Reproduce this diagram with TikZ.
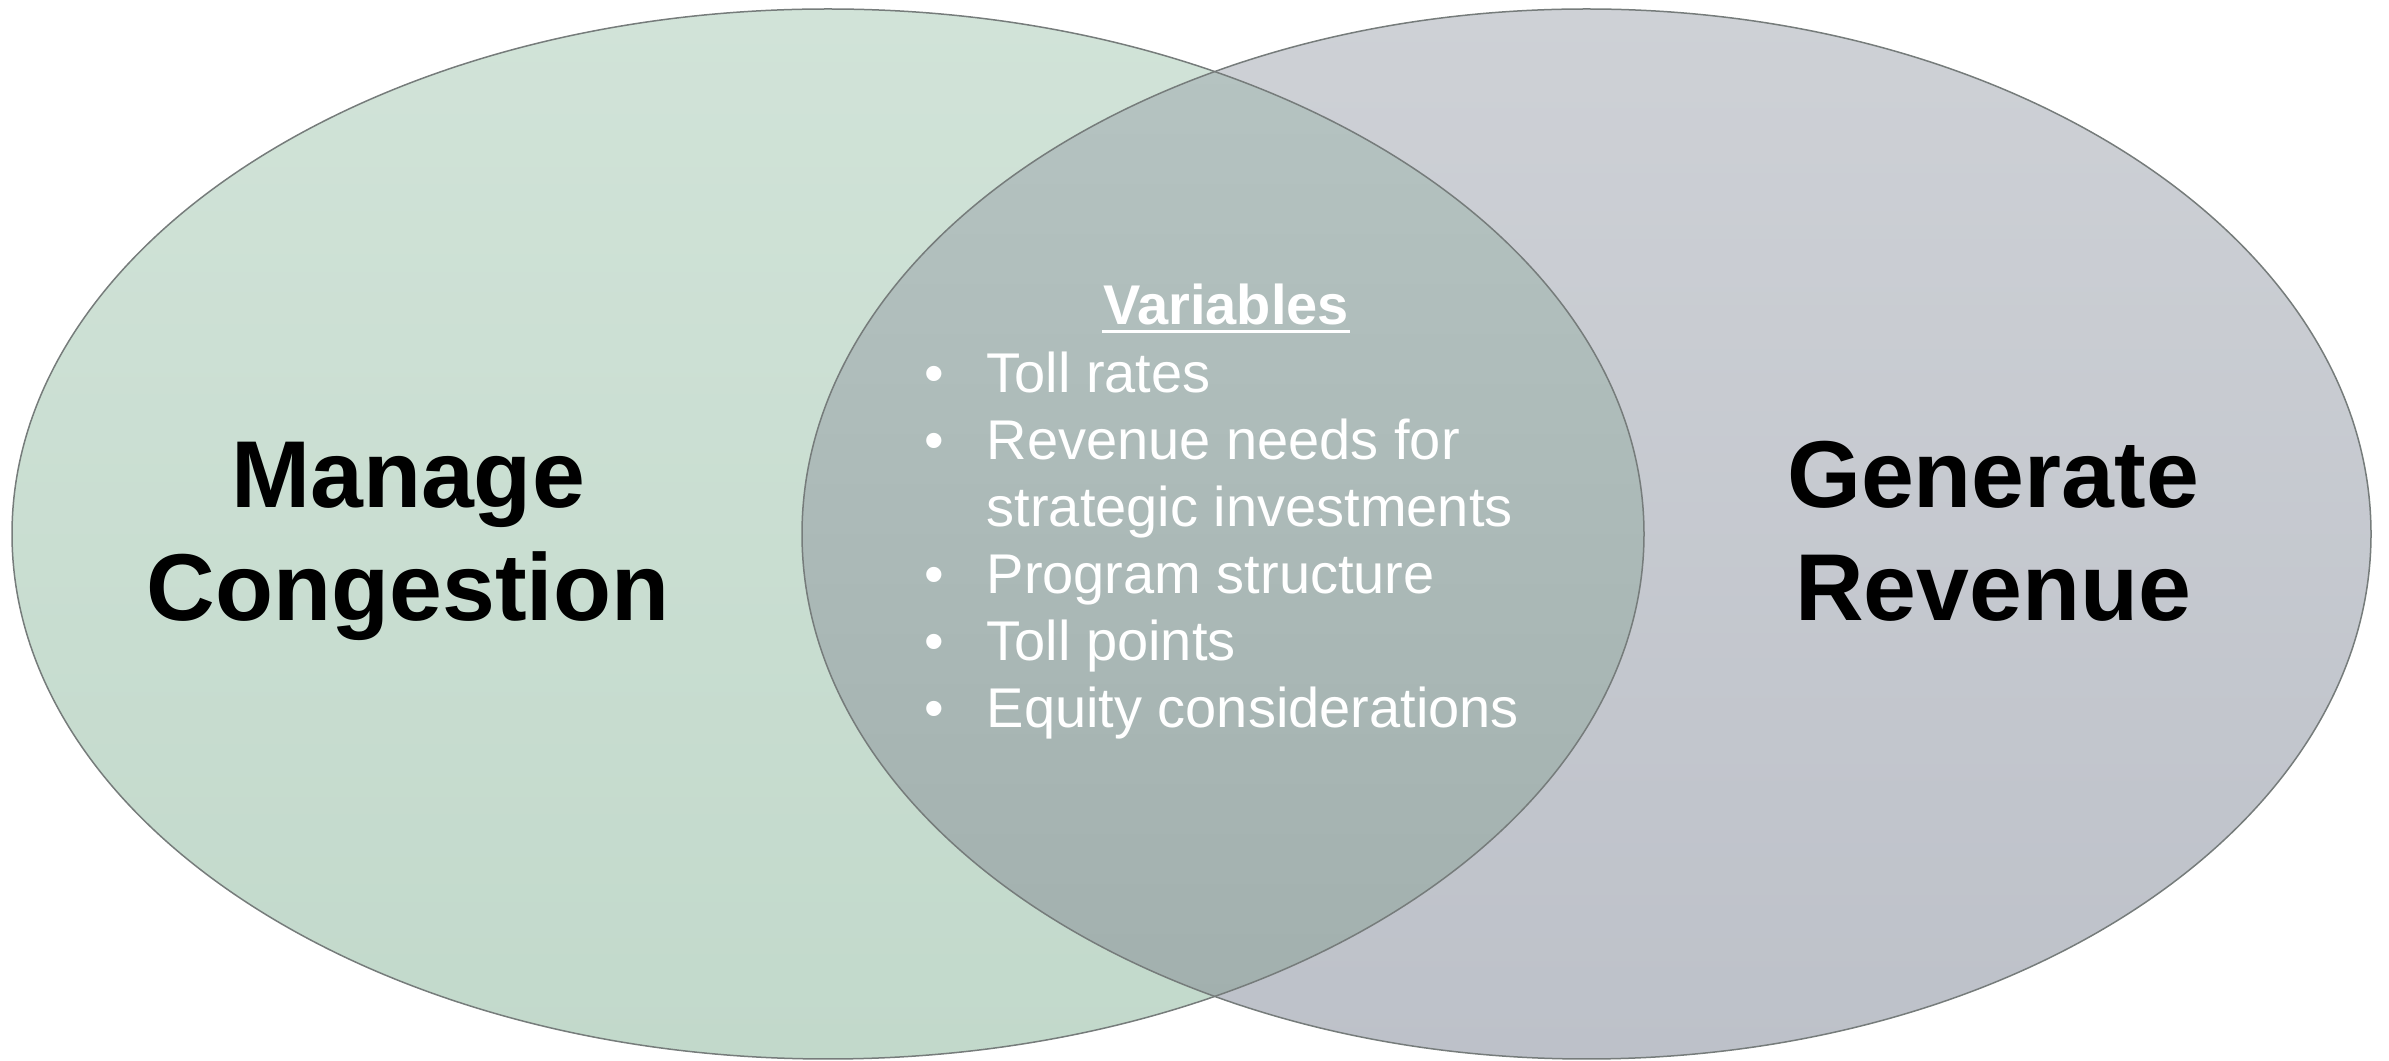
\documentclass[tikz,border=0pt]{standalone}
\usepackage{fontspec}
\setmainfont{Liberation Sans}
\definecolor{lgTop}{HTML}{D1E3D8}
\definecolor{lgBot}{HTML}{C2D9CB}
\definecolor{rgTop}{HTML}{CED1D6}
\definecolor{rgBot}{HTML}{BDC1C9}
\definecolor{mgTop}{HTML}{B6C4C2}
\definecolor{mgBot}{HTML}{A1AFAD}
\definecolor{edge}{HTML}{767C7B}
\tikzset{
  title/.style={font=\fontsize{28.5}{34}\selectfont\bfseries, text=black, anchor=base, inner sep=0pt},
  item/.style={font=\fontsize{16.8}{20}\selectfont, text=white, anchor=base west, inner sep=0pt},
  bul/.style={font=\fontsize{16.8}{20}\selectfont, text=white, anchor=base, inner sep=0pt},
  outline/.style={draw=edge, line width=0.45pt}
}
\begin{document}
\begin{tikzpicture}[x=0.3pt, y=-0.3pt]
\useasboundingbox (0,0) rectangle (2389,1061);
% left ellipse
\shade[top color=lgTop, bottom color=lgBot] (828,534) ellipse [x radius=244.8pt, y radius=157.5pt];
% right ellipse
\shade[top color=rgTop, bottom color=rgBot] (1586.5,534) ellipse [x radius=235.35pt, y radius=157.5pt];
% intersection
\begin{scope}
  \clip (828,534) ellipse [x radius=244.8pt, y radius=157.5pt];
  \shade[top color=mgTop, bottom color=mgBot] (1586.5,534) ellipse [x radius=235.35pt, y radius=157.5pt];
\end{scope}
\draw[outline] (828,534) ellipse [x radius=244.8pt, y radius=157.5pt];
\draw[outline] (1586.5,534) ellipse [x radius=235.35pt, y radius=157.5pt];

% titles
\node[title] (m1) at (408,507.5) {Manage};
\node[title] (m2) at (408,621) {Congestion};
\node[title] (g1) at (1993,507.5) {Generate};
\node[title] (g2) at (1993,621) {Revenue};

% variables
\node[font=\fontsize{16.8}{20}\selectfont\bfseries, text=white, anchor=base, inner sep=0pt] (var) at (1226,325) {Variables};
\draw[white, line width=0.9pt] ([yshift=-2.1pt]var.base west) -- ([yshift=-2.1pt]var.base east);

\node[bul] (b1) at (934,393) {•};
\node[item] (t1) at (986,393) {Toll rates};
\node[bul] (b2) at (934,460) {•};
\node[item] (t2) at (986,460) {Revenue needs for};
\node[item] (t2b) at (986,527) {strategic investments};
\node[bul] (b3) at (934,594) {•};
\node[item] (t3) at (986,594) {Program structure};
\node[bul] (b4) at (934,661) {•};
\node[item] (t4) at (986,661) {Toll points};
\node[bul] (b5) at (934,728) {•};
\node[item] (t5) at (986,728) {Equity considerations};
\end{tikzpicture}
\end{document}
